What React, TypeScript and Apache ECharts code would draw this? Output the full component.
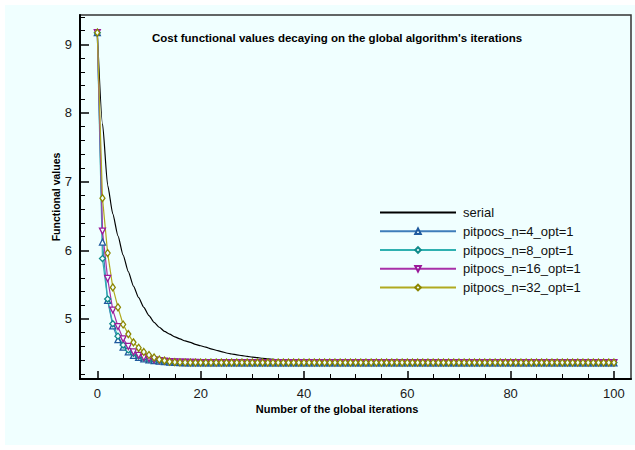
import React, { useEffect, useRef } from "react";
import * as echarts from "echarts";

const FONT = '"Liberation Sans", Arial, Helvetica, sans-serif';

const titleText = "Cost functional values decaying on the global algorithm's iterations";
const xAxisName = "Number of the global iterations";
const yAxisName = "Functional values";

const xMajorTicks = [0, 20, 40, 60, 80, 100];
const xMinorTicks = [5, 10, 15, 25, 30, 35, 45, 50, 55, 65, 70, 75, 85, 90, 95];
const yMajorTicks = [5, 6, 7, 8, 9];
const yMinorTicks = [4.2, 4.4, 4.6, 4.8, 5.2, 5.4, 5.6, 5.8, 6.2, 6.4, 6.6, 6.8, 7.2, 7.4, 7.6, 7.8, 8.2, 8.4, 8.6, 8.8, 9.2, 9.4];

const seriesNames = ["serial", "pitpocs_n=4_opt=1", "pitpocs_n=8_opt=1", "pitpocs_n=16_opt=1", "pitpocs_n=32_opt=1"];

// value at iteration i = array index i
const serial = [
  9.17, 7.85, 6.95, 6.53, 6.21, 5.93, 5.69, 5.48, 5.31, 5.17,
  5.05, 4.95, 4.88, 4.82, 4.78, 4.74, 4.71, 4.68, 4.66, 4.63,
  4.61, 4.59, 4.565, 4.545, 4.525, 4.505, 4.49, 4.478, 4.466, 4.455,
  4.445, 4.436, 4.428, 4.42, 4.413, 4.407, 4.401, 4.396, 4.392, 4.388,
  4.384, 4.381, 4.378, 4.376, 4.374, 4.372, 4.371, 4.37, 4.369, 4.368,
  4.368, 4.367, 4.367, 4.366, 4.366, 4.366, 4.365, 4.365, 4.365, 4.365,
  4.365, 4.365, 4.365, 4.365, 4.365, 4.365, 4.365, 4.365, 4.365, 4.365,
  4.365, 4.365, 4.365, 4.365, 4.365, 4.365, 4.365, 4.365, 4.365, 4.365,
  4.365, 4.365, 4.365, 4.365, 4.365, 4.365, 4.365, 4.365, 4.365, 4.365,
  4.365, 4.365, 4.365, 4.365, 4.365, 4.365, 4.365, 4.365, 4.365, 4.365,
  4.365,
];

const n4 = [
  9.17, 6.12, 5.27, 4.90, 4.70, 4.59, 4.52, 4.47, 4.44, 4.42,
  4.405, 4.395, 4.385, 4.378, 4.372, 4.368, 4.365, 4.363, 4.362, 4.361,
  4.36, 4.36, 4.36, 4.36, 4.36, 4.36, 4.36, 4.36, 4.36, 4.36,
  4.36, 4.36, 4.36, 4.36, 4.36, 4.36, 4.36, 4.36, 4.36, 4.36,
  4.36, 4.36, 4.36, 4.36, 4.36, 4.36, 4.36, 4.36, 4.36, 4.36,
  4.36, 4.36, 4.36, 4.36, 4.36, 4.36, 4.36, 4.36, 4.36, 4.36,
  4.36, 4.36, 4.36, 4.36, 4.36, 4.36, 4.36, 4.36, 4.36, 4.36,
  4.36, 4.36, 4.36, 4.36, 4.36, 4.36, 4.36, 4.36, 4.36, 4.36,
  4.36, 4.36, 4.36, 4.36, 4.36, 4.36, 4.36, 4.36, 4.36, 4.36,
  4.36, 4.36, 4.36, 4.36, 4.36, 4.36, 4.36, 4.36, 4.36, 4.36,
  4.36,
];

const n8 = [
  9.17, 5.88, 5.29, 4.93, 4.75, 4.62, 4.55, 4.50, 4.46, 4.43,
  4.41, 4.40, 4.39, 4.383, 4.377, 4.373, 4.37, 4.368, 4.366, 4.365,
  4.365, 4.365, 4.365, 4.365, 4.365, 4.365, 4.365, 4.365, 4.365, 4.365,
  4.365, 4.365, 4.365, 4.365, 4.365, 4.365, 4.365, 4.365, 4.365, 4.365,
  4.365, 4.365, 4.365, 4.365, 4.365, 4.365, 4.365, 4.365, 4.365, 4.365,
  4.365, 4.365, 4.365, 4.365, 4.365, 4.365, 4.365, 4.365, 4.365, 4.365,
  4.365, 4.365, 4.365, 4.365, 4.365, 4.365, 4.365, 4.365, 4.365, 4.365,
  4.365, 4.365, 4.365, 4.365, 4.365, 4.365, 4.365, 4.365, 4.365, 4.365,
  4.365, 4.365, 4.365, 4.365, 4.365, 4.365, 4.365, 4.365, 4.365, 4.365,
  4.365, 4.365, 4.365, 4.365, 4.365, 4.365, 4.365, 4.365, 4.365, 4.365,
  4.365,
];

const n16 = [
  9.17, 6.28, 5.59, 5.13, 4.89, 4.71, 4.60, 4.52, 4.47, 4.44,
  4.42, 4.405, 4.395, 4.387, 4.38, 4.375, 4.372, 4.37, 4.368, 4.366,
  4.365, 4.365, 4.365, 4.365, 4.365, 4.365, 4.365, 4.365, 4.365, 4.365,
  4.365, 4.365, 4.365, 4.365, 4.365, 4.365, 4.365, 4.365, 4.365, 4.365,
  4.365, 4.365, 4.365, 4.365, 4.365, 4.365, 4.365, 4.365, 4.365, 4.365,
  4.365, 4.365, 4.365, 4.365, 4.365, 4.365, 4.365, 4.365, 4.365, 4.365,
  4.365, 4.365, 4.365, 4.365, 4.365, 4.365, 4.365, 4.365, 4.365, 4.365,
  4.365, 4.365, 4.365, 4.365, 4.365, 4.365, 4.365, 4.365, 4.365, 4.365,
  4.365, 4.365, 4.365, 4.365, 4.365, 4.365, 4.365, 4.365, 4.365, 4.365,
  4.365, 4.365, 4.365, 4.365, 4.365, 4.365, 4.365, 4.365, 4.365, 4.365,
  4.365,
];

const n32 = [
  9.17, 6.76, 5.96, 5.46, 5.17, 4.92, 4.78, 4.66, 4.58, 4.52,
  4.476, 4.44, 4.41, 4.393, 4.378, 4.372, 4.368, 4.366, 4.365, 4.365,
  4.365, 4.365, 4.365, 4.365, 4.365, 4.365, 4.365, 4.365, 4.365, 4.365,
  4.365, 4.365, 4.365, 4.365, 4.365, 4.365, 4.365, 4.365, 4.365, 4.365,
  4.365, 4.365, 4.365, 4.365, 4.365, 4.365, 4.365, 4.365, 4.365, 4.365,
  4.365, 4.365, 4.365, 4.365, 4.365, 4.365, 4.365, 4.365, 4.365, 4.365,
  4.365, 4.365, 4.365, 4.365, 4.365, 4.365, 4.365, 4.365, 4.365, 4.365,
  4.365, 4.365, 4.365, 4.365, 4.365, 4.365, 4.365, 4.365, 4.365, 4.365,
  4.365, 4.365, 4.365, 4.365, 4.365, 4.365, 4.365, 4.365, 4.365, 4.365,
  4.365, 4.365, 4.365, 4.365, 4.365, 4.365, 4.365, 4.365, 4.365, 4.365,
  4.365,
];

const toPairs = (vals: number[]) => vals.map((v, i) => [i, v]);

const X_MIN = -3.35;
const X_MAX = 103.3;
const Y_MIN = 4.126;
const Y_MAX = 9.427;

const BG = "#F0FFFF";

function markerSeries(name: string, vals: number[], symbol: string, size: any, stroke: string, line: string, rotate = 0) {
  return {
    name,
    type: "line",
    data: toPairs(vals),
    symbol,
    symbolSize: size,
    symbolRotate: rotate,
    showSymbol: true,
    showAllSymbol: true,
    itemStyle: { color: BG, borderColor: stroke, borderWidth: 1.3 },
    lineStyle: { color: line, width: 1.2 },
    emphasis: { disabled: true },
  };
}

export default function App() {
  const ref = useRef<HTMLDivElement>(null);
  useEffect(() => {
    if (!ref.current) return;
    const chart = echarts.init(ref.current, undefined, { renderer: "svg" });
    const labelStyle = { fontSize: 13, color: "#1a1a1a", fontFamily: FONT };
    const option: any = {
      animation: false,
      backgroundColor: "transparent",
      graphic: [
        { type: "rect", z: -100, silent: true, shape: { x: 5, y: 5, width: 630, height: 440 }, style: { fill: BG } },
        {
          type: "text", x: 152, y: 38, silent: true,
          style: { text: titleText, textAlign: "left", textVerticalAlign: "middle", font: `bold 11.5px ${FONT}`, fill: "#000" },
        },
        {
          type: "text", x: 337, y: 409, silent: true,
          style: { text: xAxisName, textAlign: "center", textVerticalAlign: "middle", font: `bold 11px ${FONT}`, fill: "#000" },
        },
        {
          type: "text", x: 56, y: 197, rotation: Math.PI / 2, silent: true,
          style: { text: yAxisName, textAlign: "center", textVerticalAlign: "middle", font: `bold 10.5px ${FONT}`, fill: "#000" },
        },
      ],
      grid: { left: 80, top: 15, width: 551, height: 364, show: true, borderColor: "#333", borderWidth: 1.5, backgroundColor: "transparent", containLabel: false },
      xAxis: [
        {
          type: "value", min: X_MIN, max: X_MAX, position: "bottom",
          axisLine: { show: true, onZero: false, lineStyle: { color: "#000", width: 2 } },
          axisTick: { show: true, inside: true, length: 8, customValues: xMajorTicks, lineStyle: { color: "#000", width: 1.5 } },
          axisLabel: { show: true, customValues: xMajorTicks, margin: 8, ...labelStyle },
          splitLine: { show: false },
        },
        {
          type: "value", min: X_MIN, max: X_MAX, position: "bottom",
          axisLine: { show: false, onZero: false },
          axisTick: { show: true, inside: true, length: 5, customValues: xMinorTicks, lineStyle: { color: "#000", width: 1 } },
          axisLabel: { show: false },
          splitLine: { show: false },
        },
      ],
      yAxis: [
        {
          type: "value", min: Y_MIN, max: Y_MAX, position: "left",
          axisLine: { show: true, onZero: false, lineStyle: { color: "#000", width: 2 } },
          axisTick: { show: true, inside: true, length: 9, customValues: yMajorTicks, lineStyle: { color: "#000", width: 1.5 } },
          axisLabel: { show: true, customValues: yMajorTicks, margin: 8, ...labelStyle },
          splitLine: { show: false },
        },
        {
          type: "value", min: Y_MIN, max: Y_MAX, position: "left",
          axisLine: { show: false, onZero: false },
          axisTick: { show: true, inside: true, length: 5, customValues: yMinorTicks, lineStyle: { color: "#000", width: 1 } },
          axisLabel: { show: false },
          splitLine: { show: false },
        },
      ],
      legend: {
        orient: "vertical", left: 379, top: 206, padding: 0,
        itemWidth: 76, itemHeight: 7, itemGap: 5.75,
        data: seriesNames,
        lineStyle: { width: 2 },
        textStyle: { fontSize: 13, color: "#111", fontFamily: FONT, padding: [0, 0, 0, 2] },
        selectedMode: false,
      },
      series: [
        {
          name: seriesNames[0], type: "line", data: toPairs(serial), symbol: "none", showSymbol: false,
          smooth: 0.2, smoothMonotone: "x",
          lineStyle: { color: "#000", width: 1.2 }, itemStyle: { color: "rgba(0,0,0,0)", borderWidth: 0 }, emphasis: { disabled: true },
        },
        markerSeries(seriesNames[1], n4, "triangle", 6, "#1F5A9E", "#3F7DBA"),
        markerSeries(seriesNames[2], n8, "diamond", 6, "#108A8A", "#2FB0B0"),
        markerSeries(seriesNames[3], n16, "triangle", 6, "#9A1A9A", "#A830A8", 180),
        markerSeries(seriesNames[4], n32, "diamond", [5, 7], "#8C8600", "#B0AA20"),
      ],
    };
    chart.setOption(option);
    return () => chart.dispose();
  }, []);
  return (
    <div style={{ position: "fixed", left: 0, top: 0, width: 635, height: 450, background: "#fff" }}>
      <div ref={ref} style={{ width: 635, height: 450 }} />
    </div>
  );
}
